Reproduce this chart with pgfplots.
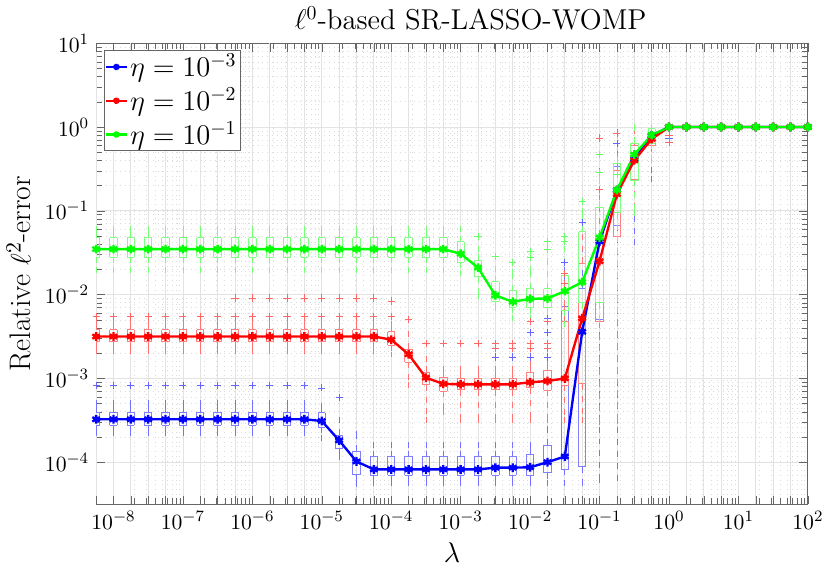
\documentclass[border=0pt]{standalone}
\usepackage{pgfplots}
\usepackage{pgfplotstable}
\pgfplotsset{compat=1.18}
\definecolor{mblue}{rgb}{0,0,1}
\definecolor{mred}{rgb}{1,0,0}
\definecolor{mgreen}{rgb}{0,1,0}

% columns: e = log10(lambda), med, q1, q3, whisker low, whisker high
\pgfplotstableread{
e med q1 q3 wlo whi
-8.25 3.25e-4 2.78e-4 3.93e-4 2.2e-4 5.1e-4
-8.00 3.25e-4 2.78e-4 3.93e-4 2.2e-4 5.1e-4
-7.75 3.25e-4 2.78e-4 3.93e-4 2.2e-4 5.1e-4
-7.50 3.25e-4 2.78e-4 3.93e-4 2.2e-4 5.1e-4
-7.25 3.25e-4 2.78e-4 3.93e-4 2.2e-4 5.1e-4
-7.00 3.25e-4 2.78e-4 3.93e-4 2.2e-4 5.1e-4
-6.75 3.25e-4 2.78e-4 3.93e-4 2.2e-4 5.1e-4
-6.50 3.25e-4 2.78e-4 3.93e-4 2.2e-4 5.1e-4
-6.25 3.25e-4 2.78e-4 3.93e-4 2.2e-4 5.1e-4
-6.00 3.25e-4 2.78e-4 3.93e-4 2.2e-4 5.1e-4
-5.75 3.25e-4 2.78e-4 3.93e-4 2.2e-4 5.1e-4
-5.50 3.25e-4 2.78e-4 3.93e-4 2.2e-4 5.1e-4
-5.25 3.25e-4 2.78e-4 3.93e-4 2.2e-4 5.1e-4
-5.00 3.1e-4 2.6e-4 3.9e-4 1.95e-4 4.7e-4
-4.75 1.82e-4 1.46e-4 2.1e-4 1.15e-4 3.2e-4
-4.50 1.02e-4 7.1e-5 1.35e-4 5.5e-5 2.2e-4
-4.25 8.2e-5 7.0e-5 1.17e-4 5.7e-5 1.6e-4
-4.00 8.2e-5 7.0e-5 1.17e-4 5.7e-5 1.6e-4
-3.75 8.2e-5 7.0e-5 1.17e-4 5.7e-5 1.6e-4
-3.50 8.2e-5 7.0e-5 1.17e-4 5.7e-5 1.6e-4
-3.25 8.2e-5 7.0e-5 1.17e-4 5.7e-5 1.6e-4
-3.00 8.2e-5 7.0e-5 1.17e-4 5.7e-5 1.6e-4
-2.75 8.2e-5 7.0e-5 1.17e-4 5.7e-5 1.6e-4
-2.50 8.6e-5 7.0e-5 1.17e-4 5.7e-5 1.6e-4
-2.25 8.6e-5 7.0e-5 1.17e-4 5.7e-5 1.6e-4
-2.00 8.7e-5 6.9e-5 1.25e-4 5.7e-5 1.6e-4
-1.75 1.0e-4 7.5e-5 1.6e-4 5.7e-5 2.5e-4
-1.50 1.17e-4 8.2e-5 7.3e-3 5.7e-5 1.97e-2
-1.25 3.6e-3 8.8e-5 1.2e-2 5.7e-5 6.0e-2
-1.00 4.3e-2 5.0e-3 1.1e-1 6.2e-5 3.0e-1
-0.75 1.77e-1 6.7e-2 3.4e-1 6.5e-5 5.5e-1
-0.50 4.1e-1 2.3e-1 6.4e-1 4.26e-2 1.0
-0.25 7.9e-1 6.4e-1 9.5e-1 2.4e-1 1.0
0.00 1 1 1 1 1
0.25 1 1 1 1 1
0.50 1 1 1 1 1
0.75 1 1 1 1 1
1.00 1 1 1 1 1
1.25 1 1 1 1 1
1.50 1 1 1 1 1
1.75 1 1 1 1 1
2.00 1 1 1 1 1
}\tblB

\pgfplotstableread{
e med q1 q3 wlo whi
-8.25 3.16e-3 2.73e-3 3.83e-3 2.14e-3 4.75e-3
-8.00 3.16e-3 2.73e-3 3.83e-3 2.14e-3 4.75e-3
-7.75 3.16e-3 2.73e-3 3.83e-3 2.14e-3 4.75e-3
-7.50 3.16e-3 2.73e-3 3.83e-3 2.14e-3 4.75e-3
-7.25 3.16e-3 2.73e-3 3.83e-3 2.14e-3 4.75e-3
-7.00 3.16e-3 2.73e-3 3.83e-3 2.14e-3 4.75e-3
-6.75 3.16e-3 2.73e-3 3.83e-3 2.14e-3 4.75e-3
-6.50 3.16e-3 2.73e-3 3.83e-3 2.14e-3 4.75e-3
-6.25 3.16e-3 2.73e-3 3.83e-3 2.14e-3 4.75e-3
-6.00 3.16e-3 2.73e-3 3.83e-3 2.14e-3 4.75e-3
-5.75 3.16e-3 2.73e-3 3.83e-3 2.14e-3 4.75e-3
-5.50 3.16e-3 2.73e-3 3.83e-3 2.14e-3 4.75e-3
-5.25 3.16e-3 2.73e-3 3.83e-3 2.14e-3 4.75e-3
-5.00 3.16e-3 2.73e-3 3.83e-3 2.14e-3 4.75e-3
-4.75 3.16e-3 2.73e-3 3.83e-3 2.14e-3 4.75e-3
-4.50 3.16e-3 2.73e-3 3.83e-3 2.14e-3 4.75e-3
-4.25 3.16e-3 2.73e-3 3.83e-3 2.14e-3 4.75e-3
-4.00 2.9e-3 2.5e-3 3.6e-3 1.93e-3 4.5e-3
-3.75 1.94e-3 1.56e-3 2.24e-3 8.3e-4 3.37e-3
-3.50 1.02e-3 8.4e-4 1.19e-3 3.2e-4 1.7e-3
-3.25 8.6e-4 7.0e-4 1.03e-3 4.0e-4 1.3e-3
-3.00 8.5e-4 7.3e-4 1.01e-3 3.2e-4 1.28e-3
-2.75 8.5e-4 7.3e-4 1.01e-3 3.2e-4 1.28e-3
-2.50 8.5e-4 7.3e-4 1.01e-3 3.2e-4 1.28e-3
-2.25 8.5e-4 7.3e-4 1.01e-3 3.2e-4 1.28e-3
-2.00 9.0e-4 7.7e-4 1.19e-3 3.2e-4 1.5e-3
-1.75 9.3e-4 7.2e-4 1.25e-3 3.2e-4 1.6e-3
-1.50 1.0e-3 8.3e-4 4.75e-3 3.2e-4 8.0e-3
-1.25 5.2e-3 8.6e-4 2.36e-2 3.2e-4 1.0e-1
-1.00 2.5e-2 4.75e-3 5.0e-2 3.0e-4 1.5e-1
-0.75 1.58e-1 5.0e-2 3.0e-1 3.1e-4 6.0e-1
-0.50 4.0e-1 2.4e-1 6.0e-1 1.0e-1 9.5e-1
-0.25 7.2e-1 6.0e-1 8.5e-1 4.0e-1 1.0
0.00 1 1 1 1 1
0.25 1 1 1 1 1
0.50 1 1 1 1 1
0.75 1 1 1 1 1
1.00 1 1 1 1 1
1.25 1 1 1 1 1
1.50 1 1 1 1 1
1.75 1 1 1 1 1
2.00 1 1 1 1 1
}\tblR

\pgfplotstableread{
e med q1 q3 wlo whi
-8.25 3.49e-2 2.79e-2 4.8e-2 1.97e-2 6.1e-2
-8.00 3.49e-2 2.79e-2 4.8e-2 1.97e-2 6.1e-2
-7.75 3.49e-2 2.79e-2 4.8e-2 1.97e-2 6.1e-2
-7.50 3.49e-2 2.79e-2 4.8e-2 1.97e-2 6.1e-2
-7.25 3.49e-2 2.79e-2 4.8e-2 1.97e-2 6.1e-2
-7.00 3.49e-2 2.79e-2 4.8e-2 1.97e-2 6.1e-2
-6.75 3.49e-2 2.79e-2 4.8e-2 1.97e-2 6.1e-2
-6.50 3.49e-2 2.79e-2 4.8e-2 1.97e-2 6.1e-2
-6.25 3.49e-2 2.79e-2 4.8e-2 1.97e-2 6.1e-2
-6.00 3.49e-2 2.79e-2 4.8e-2 1.97e-2 6.1e-2
-5.75 3.49e-2 2.79e-2 4.8e-2 1.97e-2 6.1e-2
-5.50 3.49e-2 2.79e-2 4.8e-2 1.97e-2 6.1e-2
-5.25 3.49e-2 2.79e-2 4.8e-2 1.97e-2 6.1e-2
-5.00 3.49e-2 2.79e-2 4.8e-2 1.97e-2 6.1e-2
-4.75 3.49e-2 2.79e-2 4.8e-2 1.97e-2 6.1e-2
-4.50 3.49e-2 2.79e-2 4.8e-2 1.97e-2 6.1e-2
-4.25 3.49e-2 2.79e-2 4.8e-2 1.97e-2 6.1e-2
-4.00 3.49e-2 2.79e-2 4.8e-2 1.97e-2 6.1e-2
-3.75 3.49e-2 2.79e-2 4.8e-2 1.97e-2 6.1e-2
-3.50 3.49e-2 2.79e-2 4.8e-2 1.97e-2 6.1e-2
-3.25 3.49e-2 2.79e-2 4.8e-2 1.97e-2 6.1e-2
-3.00 3.07e-2 2.43e-2 4.26e-2 1.8e-2 6.12e-2
-2.75 2.1e-2 1.64e-2 2.59e-2 9.5e-3 3.5e-2
-2.50 9.8e-3 8.3e-3 1.43e-2 6.95e-3 2.0e-2
-2.25 8.2e-3 7.06e-3 1.12e-2 5.3e-3 1.88e-2
-2.00 8.9e-3 7.0e-3 1.18e-2 5.3e-3 2.0e-2
-1.75 9.0e-3 7.0e-3 1.18e-2 5.5e-3 2.5e-2
-1.50 1.1e-2 6.5e-3 1.69e-2 4.5e-3 3.5e-2
-1.25 1.41e-2 8.0e-3 5.6e-2 4.5e-3 1.0e-1
-1.00 4.8e-2 8.0e-3 1.1e-1 5.0e-3 2.5e-1
-0.75 1.77e-1 9.5e-2 3.7e-1 6.6e-3 8.0e-1
-0.50 4.7e-1 2.3e-1 6.4e-1 9.5e-2 1.0
-0.25 8.0e-1 6.4e-1 9.5e-1 4.0e-1 1.0
0.00 1 1 1 1 1
0.25 1 1 1 1 1
0.50 1 1 1 1 1
0.75 1 1 1 1 1
1.00 1 1 1 1 1
1.25 1 1 1 1 1
1.50 1 1 1 1 1
1.75 1 1 1 1 1
2.00 1 1 1 1 1
}\tblG

% outliers
\pgfplotstableread{
e v
-8.25 8.2e-4
-8.00 8.2e-4
-7.75 8.2e-4
-7.50 8.2e-4
-7.25 8.2e-4
-7.00 8.2e-4
-6.75 8.2e-4
-6.50 8.2e-4
-6.25 8.2e-4
-6.00 8.2e-4
-5.75 8.2e-4
-5.50 8.2e-4
-5.25 8.2e-4
-5.00 7.7e-4
-4.75 5.9e-4
-2.50 1.8e-3
-2.25 1.8e-3
-2.00 1.8e-3
-2.00 3.5e-3
-1.75 1.8e-3
-1.75 3.5e-3
-1.75 5.2e-3
-1.50 2.4e-2
-1.25 7.3e-2
-1.00 2.9e-1
-1.00 4.7e-1
-0.75 6.3e-1
-0.75 8.5e-1
0.00 7.3e-1
}\outB

\pgfplotstableread{
e v
-8.25 5.45e-3
-8.00 5.45e-3
-7.75 5.45e-3
-7.50 5.45e-3
-7.25 5.45e-3
-7.00 5.45e-3
-6.75 5.45e-3
-6.50 5.45e-3
-6.25 5.45e-3
-6.00 5.45e-3
-5.75 5.45e-3
-5.50 5.45e-3
-5.25 5.45e-3
-5.00 5.45e-3
-4.75 5.45e-3
-4.50 5.45e-3
-4.25 5.45e-3
-6.25 9.1e-3
-6.00 9.1e-3
-5.75 9.1e-3
-5.50 9.1e-3
-5.25 9.1e-3
-5.00 9.1e-3
-4.75 9.1e-3
-4.50 9.1e-3
-4.25 9.1e-3
-4.00 8.4e-3
-4.00 5.45e-3
-3.75 5.0e-3
-3.50 2.6e-3
-3.25 2.6e-3
-3.00 2.6e-3
-2.75 2.6e-3
-2.50 2.6e-3
-2.50 2.3e-3
-2.25 2.6e-3
-2.25 2.3e-3
-2.00 2.6e-3
-2.00 2.3e-3
-2.00 4.8e-3
-1.75 2.6e-3
-1.75 2.3e-3
-1.75 4.8e-3
-1.50 1.37e-2
-1.50 1.8e-2
-1.25 1.3e-1
-1.00 1.8e-1
-1.00 7.4e-1
-0.75 8.3e-1
0.00 8.0e-1
0.00 6.5e-1
}\outR

\pgfplotstableread{
e v
-2.75 4.9e-2
-2.50 2.83e-2
-2.25 2.4e-2
-2.00 2.8e-2
-2.00 3.3e-2
-1.75 3.5e-2
-1.75 4.3e-2
-1.50 4.3e-2
-1.50 4.9e-2
-1.25 1.3e-1
-1.00 2.9e-1
-1.00 4.7e-1
-0.75 2.7e-1
}\outG

\pgfplotsset{
  hiddenline/.style={forget plot, mark=none, draw opacity=0, fill opacity=0},
}

% #1 = stats table, #2 = colour, #3 = outlier table
\newcommand\statplots[3]{%
  % upper whiskers
  \addplot[hiddenline,
    error bars/.cd, y dir=plus, y explicit,
    error bar style={draw opacity=1, draw=#2!55, dashed, line width=0.4pt, mark size=1.5pt},
    error mark=-, error mark options={solid, draw=#2!55, draw opacity=1, mark size=1.5pt}]
    table[x expr=10^(\thisrow{e}), y=q3, y error plus expr=\thisrow{whi}-\thisrow{q3}] {#1};
  % lower whiskers
  \addplot[hiddenline,
    error bars/.cd, y dir=minus, y explicit,
    error bar style={draw opacity=1, draw=#2!55, dashed, line width=0.4pt, mark size=1.5pt},
    error mark=-, error mark options={solid, draw=#2!55, draw opacity=1, mark size=1.5pt}]
    table[x expr=10^(\thisrow{e}), y=q1, y error minus expr=\thisrow{q1}-\thisrow{wlo}] {#1};
  % box left side
  \addplot[hiddenline,
    error bars/.cd, y dir=plus, y explicit,
    error bar style={draw opacity=1, draw=#2!50, line width=0.45pt}, error mark=none]
    table[x expr=10^(\thisrow{e}-0.053), y=q1, y error plus expr=\thisrow{q3}-\thisrow{q1}] {#1};
  % box right side
  \addplot[hiddenline,
    error bars/.cd, y dir=plus, y explicit,
    error bar style={draw opacity=1, draw=#2!50, line width=0.45pt}, error mark=none]
    table[x expr=10^(\thisrow{e}+0.053), y=q1, y error plus expr=\thisrow{q3}-\thisrow{q1}] {#1};
  % box top
  \addplot[hiddenline,
    error bars/.cd, x dir=both, x explicit,
    error bar style={draw opacity=1, draw=#2!50, line width=0.45pt}, error mark=none]
    table[x expr=10^(\thisrow{e}), y=q3,
      x error plus expr=10^(\thisrow{e}+0.053)-10^(\thisrow{e}),
      x error minus expr=10^(\thisrow{e})-10^(\thisrow{e}-0.053)] {#1};
  % box bottom
  \addplot[hiddenline,
    error bars/.cd, x dir=both, x explicit,
    error bar style={draw opacity=1, draw=#2!50, line width=0.45pt}, error mark=none]
    table[x expr=10^(\thisrow{e}), y=q1,
      x error plus expr=10^(\thisrow{e}+0.053)-10^(\thisrow{e}),
      x error minus expr=10^(\thisrow{e})-10^(\thisrow{e}-0.053)] {#1};
  % outliers
  \addplot[forget plot, only marks, color=#2!60, mark=+, mark size=1.8pt, line width=0.4pt,
    mark options={solid, color=#2!60, draw=#2!60}]
    table[x expr=10^(\thisrow{e}), y=v] {#3};
}

\begin{document}
\begin{tikzpicture}
\begin{axis}[
  scale only axis, width=359.7pt, height=232.9pt,
  xmode=log, ymode=log,
  xmin=5.6234e-9, xmax=100, ymin=3.1623e-5, ymax=10,
  xtick={1e-8,1e-7,1e-6,1e-5,1e-4,1e-3,1e-2,1e-1,1,10,100},
  ytick={1e-4,1e-3,1e-2,1e-1,1,10},
  extra x ticks={5.6234e-9,1.7783e-8,3.1623e-8,5.6234e-8,1.7783e-7,3.1623e-7,5.6234e-7,
    1.7783e-6,3.1623e-6,5.6234e-6,1.7783e-5,3.1623e-5,5.6234e-5,1.7783e-4,3.1623e-4,5.6234e-4,
    1.7783e-3,3.1623e-3,5.6234e-3,1.7783e-2,3.1623e-2,5.6234e-2,0.17783,0.31623,0.56234,
    1.7783,3.1623,5.6234,17.783,31.623,56.234},
  extra x tick style={xticklabel={}},
  grid=both,
  major grid style={gray!22, line width=0.4pt},
  minor grid style={gray!28, dotted, line width=0.3pt},
  axis line style={black!60},
  tick style={black!60},
  tick label style={font=\fontsize{11.3}{13}\selectfont},
  title={$\ell^0$-based SR-LASSO-WOMP},
  title style={font=\fontsize{14.5}{17}\selectfont, xshift=9.5pt, yshift=-3pt},
  xlabel={$\lambda$},
  xlabel style={font=\fontsize{14}{16}\selectfont},
  ylabel={Relative $\ell^2$-error},
  ylabel style={font=\fontsize{15}{17}\selectfont},
  legend style={at={(0.0107,0.985)}, anchor=north west,
    font=\fontsize{13.8}{16.5}\selectfont, draw=black!60, fill=white,
    inner sep=0.5pt, row sep=1.5pt, nodes={inner sep=1.2pt}},
  legend cell align=left,
  legend image code/.code={\draw[mark repeat=2,mark phase=2, mark size=1.6pt] plot coordinates {(0cm,0cm) (0.18cm,0cm) (0.36cm,0cm)};},
]
\statplots{\tblB}{mblue}{\outB}
\statplots{\tblR}{mred}{\outR}
\statplots{\tblG}{mgreen}{\outG}

\addplot[mblue, line width=1.2pt, mark=asterisk, mark size=2.2pt, mark options={line width=1.2pt}]
  table[x expr=10^(\thisrow{e}), y=med] {\tblB};
\addlegendentry{$\eta=10^{-3}$}
\addplot[mred, line width=1.2pt, mark=asterisk, mark size=2.2pt, mark options={line width=1.2pt}]
  table[x expr=10^(\thisrow{e}), y=med] {\tblR};
\addlegendentry{$\eta=10^{-2}$}
\addplot[mgreen, line width=1.2pt, mark=asterisk, mark size=2.2pt, mark options={line width=1.2pt}]
  table[x expr=10^(\thisrow{e}), y=med] {\tblG};
\addlegendentry{$\eta=10^{-1}$}
\end{axis}
\end{tikzpicture}
\end{document}
